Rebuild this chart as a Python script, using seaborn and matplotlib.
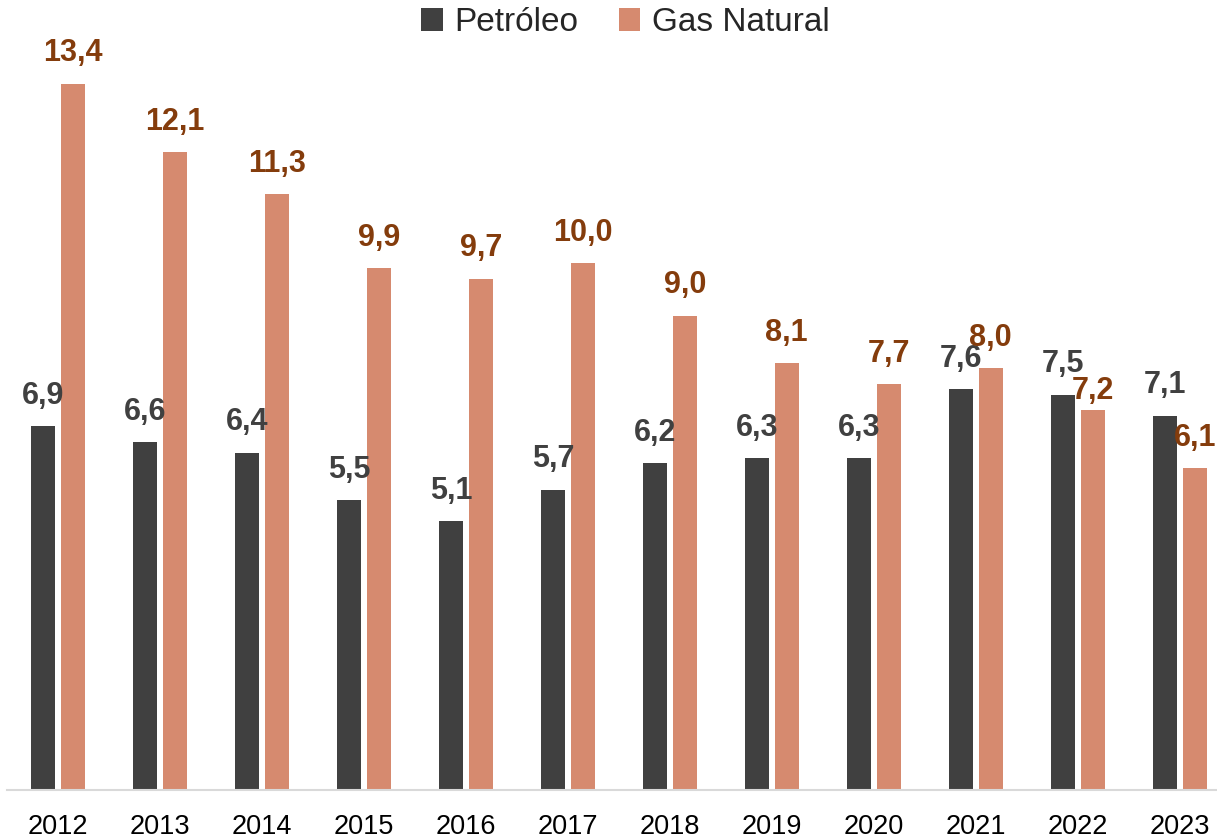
import pandas as pd
import matplotlib.pyplot as plt
import seaborn as sns
from matplotlib.patches import Patch

# === DATA ===
years = ['2012', '2013', '2014', '2015', '2016', '2017',
         '2018', '2019', '2020', '2021', '2022', '2023']
petroleo = [6.9, 6.6, 6.4, 5.5, 5.1, 5.7, 6.2, 6.3, 6.3, 7.6, 7.5, 7.1]
gas_natural = [13.4, 12.1, 11.3, 9.9, 9.7, 10.0, 9.0, 8.1, 7.7, 8.0, 7.2, 6.1]
series_names = ['Petróleo', 'Gas Natural']

COLORS = {'Petróleo': '#404040', 'Gas Natural': '#D68A6F'}
LABEL_COLORS = {'Petróleo': '#404040', 'Gas Natural': '#843C0C'}

df = pd.DataFrame({
    'ano': years * 2,
    'valor': petroleo + gas_natural,
    'serie': [series_names[0]] * len(years) + [series_names[1]] * len(years),
})

# === FIGURE ===
sns.set_theme(style="white")
plt.rcParams['font.family'] = ['Liberation Sans', 'DejaVu Sans']

fig = plt.figure(figsize=(12.17, 8.39), dpi=100)
ax = fig.add_axes([7 / 1217, 49 / 839, 1224 / 1217, 738 / 839])

sns.barplot(data=df, x='ano', y='valor', hue='serie', hue_order=series_names,
            palette=COLORS, saturation=1, width=0.58, gap=0.2, linewidth=0,
            legend=False, ax=ax)

# value labels with comma decimals
for cont, name in zip(ax.containers, series_names):
    vals = petroleo if name == 'Petróleo' else gas_natural
    texts = ax.bar_label(cont, labels=[f"{v:.1f}".replace('.', ',') for v in vals],
                         padding=11, fontsize=22, fontweight='bold',
                         color=LABEL_COLORS[name])
    if name == 'Gas Natural':
        # 2022 gas label sits a bit lower so it clears the petroleum label
        texts[years.index('2022')].xyann = (0, 3)

ax.set_xlim(-0.5, len(years) - 0.5)
ax.set_ylim(0, 14)
ax.set_xlabel('')
ax.set_ylabel('')
ax.set_yticks([])
ax.tick_params(axis='x', length=0, pad=17, labelsize=19.5, labelcolor='black')
for side in ['left', 'right', 'top']:
    ax.spines[side].set_visible(False)
ax.spines['bottom'].set_color('#D9D9D9')
ax.spines['bottom'].set_linewidth(1.5)

handles = [Patch(facecolor=COLORS[n], edgecolor='none', label=n) for n in series_names]
fig.legend(handles=handles, loc='center', bbox_to_anchor=(0.514, 0.973), ncol=2,
           frameon=False, fontsize=24, handlelength=0.65, handleheight=0.65,
           handletextpad=0.35, columnspacing=1.2)

plt.savefig('out.png', dpi=100)
plt.close()
